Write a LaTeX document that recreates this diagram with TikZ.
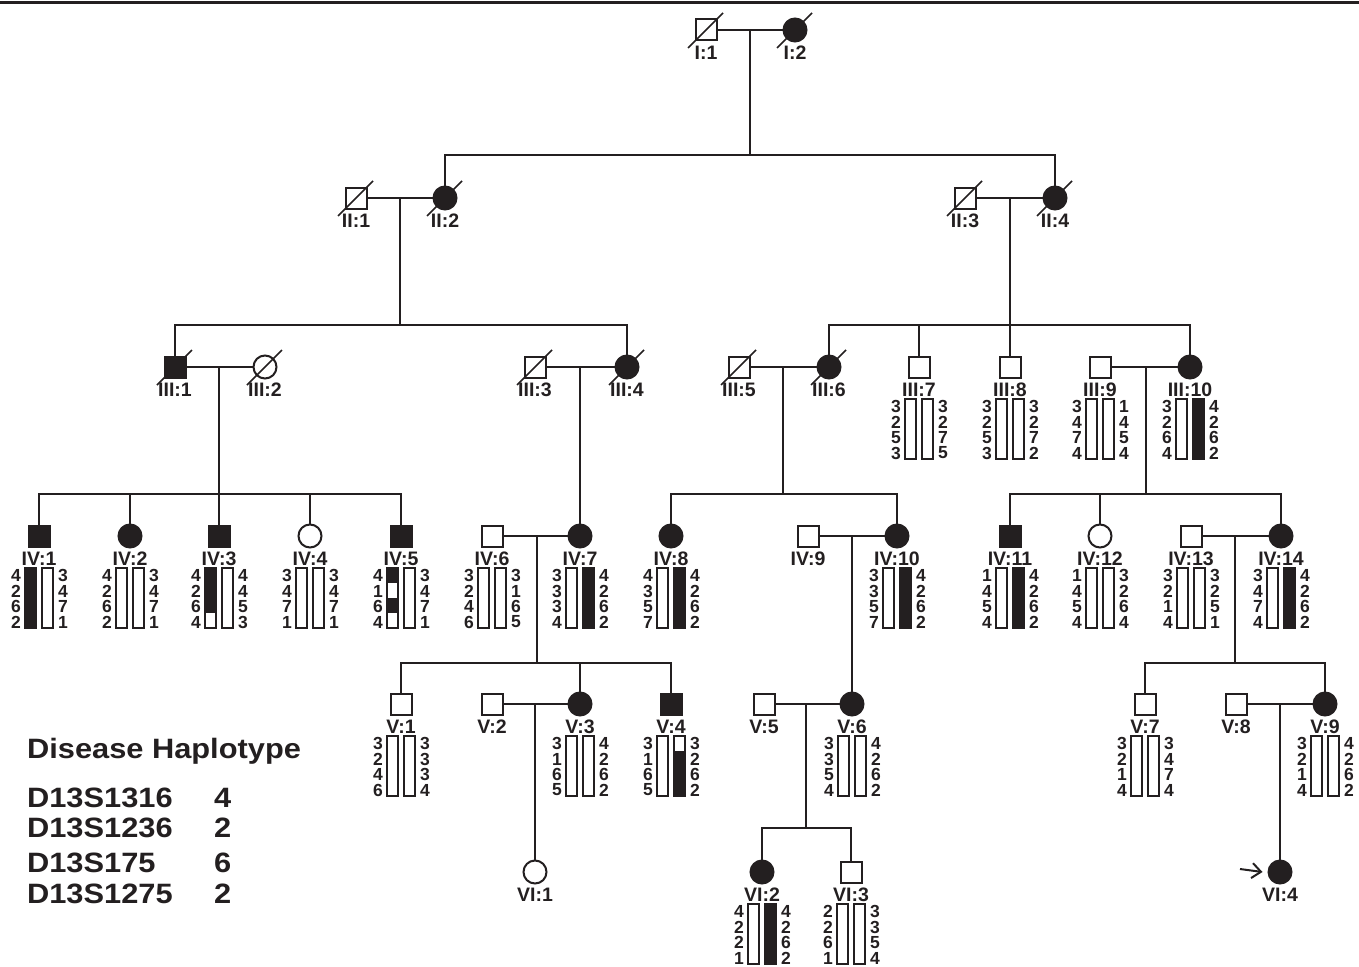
\documentclass[tikz,border=0pt]{standalone}
\usepackage{fontspec}
\setmainfont{Liberation Sans}
\newfontfamily\keyfont[FakeStretch=1.1]{Liberation Sans}
\usetikzlibrary{arrows.meta}
\definecolor{ink}{RGB}{35,31,32}
\colorlet{B}{ink}
\colorlet{W}{white}

% symbol with its label underneath: id, style, x, y, label
\newcommand{\person}[5]{%
  \node[#2] (#1) at (#3,#4) {};
  \node[lab] (#1-lab) at (#3,#4+23) {#5};}

% two haplotype bars under a symbol: id, left alleles, right alleles, left fills, right fills
\newcommand{\hap}[5]{%
  \begin{scope}[shift={(#1)}]
    \foreach \f [count=\k] in {#4} \fill[\f] (-14,17+15*\k) rectangle (-3,32+15*\k);
    \foreach \f [count=\k] in {#5} \fill[\f] (3,17+15*\k) rectangle (14,32+15*\k);
    \draw[bar] (-14,32) rectangle (-3,92);
    \draw[bar] (3,32) rectangle (14,92);
    \foreach \a [count=\k] in {#2} \node[allele] (#1-l\k) at (-23,24+15.5*\k) {\a};
    \foreach \a [count=\k] in {#3} \node[allele] (#1-r\k) at (24,24+15.5*\k) {\a};
  \end{scope}}

\begin{document}
\begin{tikzpicture}[x=1pt, y=-1pt, color=ink, line width=2.2pt,
    male/.style={rectangle, draw, line width=2pt, minimum size=21pt, inner sep=0pt},
    female/.style={circle, draw, line width=2pt, minimum size=23pt, inner sep=0pt},
    aff/.style={fill=ink},
    lab/.style={font=\bfseries\fontsize{19.5}{20}\selectfont, inner sep=0pt},
    allele/.style={font=\bfseries\fontsize{17.5}{18}\selectfont, inner sep=0pt},
    bar/.style={line width=1.6pt},
    slash/.style={line width=1.6pt},
    key/.style={font=\keyfont\bfseries\fontsize{28}{28}\selectfont, inner sep=0pt}]
  \useasboundingbox (0,0) rectangle (1359,966);
  \draw[line width=3pt] (0,3) -- (1359,3);

  % Generation I
  \person{i1}{male}{706}{30}{I:1}
  \person{i2}{female,aff}{795}{30}{I:2}
  % Generation II
  \person{ii1}{male}{356}{198}{II:1}
  \person{ii2}{female,aff}{445}{198}{II:2}
  \person{ii3}{male}{965}{198}{II:3}
  \person{ii4}{female,aff}{1055}{198}{II:4}
  % Generation III
  \person{iii1}{male,aff}{175}{367}{III:1}
  \person{iii2}{female}{265}{367}{III:2}
  \person{iii3}{male}{535}{367}{III:3}
  \person{iii4}{female,aff}{627}{367}{III:4}
  \person{iii5}{male}{739}{367}{III:5}
  \person{iii6}{female,aff}{829}{367}{III:6}
  \person{iii7}{male}{919}{367}{III:7}
  \person{iii8}{male}{1010}{367}{III:8}
  \person{iii9}{male}{1100}{367}{III:9}
  \person{iii10}{female,aff}{1190}{367}{III:10}
  % Generation IV
  \person{iv1}{male,aff}{39}{536}{IV:1}
  \person{iv2}{female,aff}{130}{536}{IV:2}
  \person{iv3}{male,aff}{219}{536}{IV:3}
  \person{iv4}{female}{310}{536}{IV:4}
  \person{iv5}{male,aff}{401}{536}{IV:5}
  \person{iv6}{male}{492}{536}{IV:6}
  \person{iv7}{female,aff}{580}{536}{IV:7}
  \person{iv8}{female,aff}{671}{536}{IV:8}
  \person{iv9}{male}{808}{536}{IV:9}
  \person{iv10}{female,aff}{897}{536}{IV:10}
  \person{iv11}{male,aff}{1010}{536}{IV:11}
  \person{iv12}{female}{1100}{536}{IV:12}
  \person{iv13}{male}{1191}{536}{IV:13}
  \person{iv14}{female,aff}{1281}{536}{IV:14}
  % Generation V
  \person{v1}{male}{401}{704}{V:1}
  \person{v2}{male}{492}{704}{V:2}
  \person{v3}{female,aff}{580}{704}{V:3}
  \person{v4}{male,aff}{671}{704}{V:4}
  \person{v5}{male}{764}{704}{V:5}
  \person{v6}{female,aff}{852}{704}{V:6}
  \person{v7}{male}{1145}{704}{V:7}
  \person{v8}{male}{1236}{704}{V:8}
  \person{v9}{female,aff}{1325}{704}{V:9}
  % Generation VI
  \person{vi1}{female}{535}{872}{VI:1}
  \person{vi2}{female,aff}{762}{872}{VI:2}
  \person{vi3}{male}{851}{872}{VI:3}
  \person{vi4}{female,aff}{1280}{872}{VI:4}

  % deceased
  \foreach \p in {i1,i2,ii1,ii2,ii3,ii4,iii1,iii2,iii3,iii4,iii5,iii6}
    \draw[slash] ([shift={(-18,18)}]\p.center) -- ([shift={(17,-17)}]\p.center);

  % Matings and descent
  \draw (i1) -- (i2);
  \coordinate (m-i) at (750,30);
  \coordinate (s-ii) at (750,155);
  \draw (m-i) -- (s-ii);
  \draw (ii2.north) |- (s-ii) -| (ii4.north);

  \draw (ii1) -- (ii2);
  \coordinate (m-ii1) at (400,198);
  \coordinate (s-iii1) at (400,325);
  \draw (m-ii1) -- (s-iii1);
  \draw (iii1.north) |- (s-iii1) -| (iii4.north);

  \draw (ii3) -- (ii4);
  \coordinate (m-ii2) at (1010,198);
  \coordinate (s-iii2) at (1010,325);
  \draw (m-ii2) -- (iii8.north);
  \draw (iii6.north) |- (s-iii2) -| (iii10.north);
  \draw (iii7.north) -- (iii7.north |- s-iii2);

  \draw (iii1) -- (iii2);
  \coordinate (m-iii1) at (219,367);
  \coordinate (s-iv1) at (219,494);
  \draw (m-iii1) -- (s-iv1);
  \draw (iv1.north) |- (s-iv1) -| (iv5.north);
  \foreach \c in {iv2,iv3,iv4} \draw (\c.north) -- (\c.north |- s-iv1);

  \draw (iii3) -- (iii4);
  \coordinate (m-iii2) at (580,367);
  \draw (m-iii2) -- (iv7.north);

  \draw (iii5) -- (iii6);
  \coordinate (m-iii3) at (783,367);
  \coordinate (s-iv2) at (783,494);
  \draw (m-iii3) -- (s-iv2);
  \draw (iv8.north) |- (s-iv2) -| (iv10.north);

  \draw (iii9) -- (iii10);
  \coordinate (m-iii4) at (1146,367);
  \coordinate (s-iv3) at (1146,494);
  \draw (m-iii4) -- (s-iv3);
  \draw (iv11.north) |- (s-iv3) -| (iv14.north);
  \draw (iv12.north) -- (iv12.north |- s-iv3);

  \draw (iv6) -- (iv7);
  \coordinate (m-iv1) at (537,536);
  \coordinate (s-v1) at (537,663);
  \draw (m-iv1) -- (s-v1);
  \draw (v1.north) |- (s-v1) -| (v4.north);
  \draw (v3.north) -- (v3.north |- s-v1);

  \draw (iv9) -- (iv10);
  \coordinate (m-iv2) at (852,536);
  \draw (m-iv2) -- (v6.north);

  \draw (iv13) -- (iv14);
  \coordinate (m-iv3) at (1235,536);
  \coordinate (s-v2) at (1235,663);
  \draw (m-iv3) -- (s-v2);
  \draw (v7.north) |- (s-v2) -| (v9.north);

  \draw (v2) -- (v3);
  \coordinate (m-v1) at (535,704);
  \draw (m-v1) -- (vi1.north);

  \draw (v5) -- (v6);
  \coordinate (m-v2) at (806,704);
  \coordinate (s-vi) at (806,828);
  \draw (m-v2) -- (s-vi);
  \draw (vi2.north) |- (s-vi) -| (vi3.north);

  \draw (v8) -- (v9);
  \coordinate (m-v3) at (1280,704);
  \draw (m-v3) -- (vi4.north);

  % proband
  \coordinate (pro) at (1240,869);
  \draw[-{Straight Barb[length=9pt,width=15pt]}, line width=2pt] (pro) -- ([xshift=-5pt]vi4.west);

  % Haplotypes
  \hap{iii7}{3,2,5,3}{3,2,7,5}{W,W,W,W}{W,W,W,W}
  \hap{iii8}{3,2,5,3}{3,2,7,2}{W,W,W,W}{W,W,W,W}
  \hap{iii9}{3,4,7,4}{1,4,5,4}{W,W,W,W}{W,W,W,W}
  \hap{iii10}{3,2,6,4}{4,2,6,2}{W,W,W,W}{B,B,B,B}
  \hap{iv1}{4,2,6,2}{3,4,7,1}{B,B,B,B}{W,W,W,W}
  \hap{iv2}{4,2,6,2}{3,4,7,1}{W,W,W,W}{W,W,W,W}
  \hap{iv3}{4,2,6,4}{4,4,5,3}{B,B,B,W}{W,W,W,W}
  \hap{iv4}{3,4,7,1}{3,4,7,1}{W,W,W,W}{W,W,W,W}
  \hap{iv5}{4,1,6,4}{3,4,7,1}{B,W,B,W}{W,W,W,W}
  \hap{iv6}{3,2,4,6}{3,1,6,5}{W,W,W,W}{W,W,W,W}
  \hap{iv7}{3,3,3,4}{4,2,6,2}{W,W,W,W}{B,B,B,B}
  \hap{iv8}{4,3,5,7}{4,2,6,2}{W,W,W,W}{B,B,B,B}
  \hap{iv10}{3,3,5,7}{4,2,6,2}{W,W,W,W}{B,B,B,B}
  \hap{iv11}{1,4,5,4}{4,2,6,2}{W,W,W,W}{B,B,B,B}
  \hap{iv12}{1,4,5,4}{3,2,6,4}{W,W,W,W}{W,W,W,W}
  \hap{iv13}{3,2,1,4}{3,2,5,1}{W,W,W,W}{W,W,W,W}
  \hap{iv14}{3,4,7,4}{4,2,6,2}{W,W,W,W}{B,B,B,B}
  \hap{v1}{3,2,4,6}{3,3,3,4}{W,W,W,W}{W,W,W,W}
  \hap{v3}{3,1,6,5}{4,2,6,2}{W,W,W,W}{W,W,W,W}
  \hap{v4}{3,1,6,5}{3,2,6,2}{W,W,W,W}{W,B,B,B}
  \hap{v6}{3,3,5,4}{4,2,6,2}{W,W,W,W}{W,W,W,W}
  \hap{v7}{3,2,1,4}{3,4,7,4}{W,W,W,W}{W,W,W,W}
  \hap{v9}{3,2,1,4}{4,2,6,2}{W,W,W,W}{W,W,W,W}
  \hap{vi2}{4,2,2,1}{4,2,6,2}{W,W,W,W}{B,B,B,B}
  \hap{vi3}{2,2,6,1}{3,3,5,4}{W,W,W,W}{W,W,W,W}

  % Legend
  \node[key, anchor=base west] (key) at (26,758) {Disease Haplotype};
  \foreach \m/\v/\y [count=\k] in {D13S1316/4/807, D13S1236/2/837, D13S175/6/872, D13S1275/2/903} {
    \node[key, anchor=base west] (key-m\k) at (26,\y) {\m};
    \node[key, anchor=base west] (key-v\k) at (213,\y) {\v};
  }
\end{tikzpicture}
\end{document}
